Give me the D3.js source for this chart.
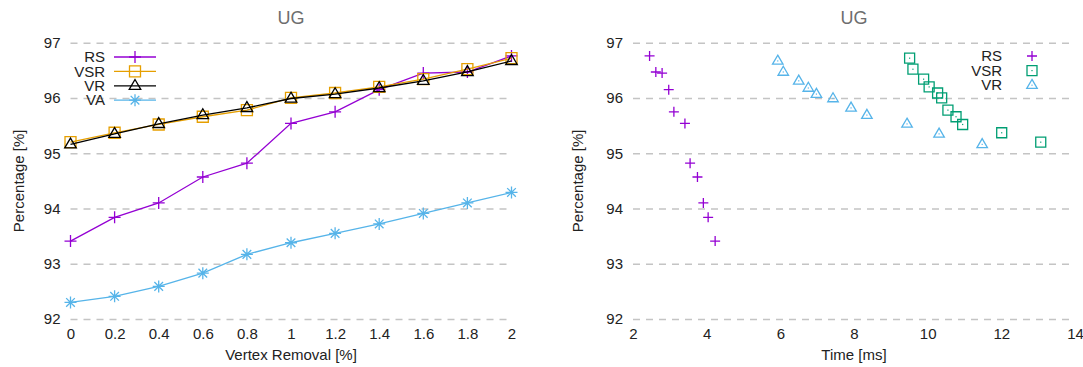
<!DOCTYPE html>
<html>
<head>
<meta charset="utf-8">
<script src="https://cdn.jsdelivr.net/npm/d3@7"></script>
<style>
  body { margin: 0; background: #fff; }
  svg { display: block; font-family: 'Liberation Sans', Arial, sans-serif; }
  .grid line { stroke: #c4c4c4; stroke-width: 1.5; stroke-dasharray: 7,6; }
  .tick text { font-size: 15px; fill: #222; font-family: 'Liberation Sans', Arial, sans-serif; }
</style>
</head>
<body>
<svg id="chart" width="1083" height="367"></svg>
<script>
// vertex removal levels (%)
const removal = [0, 0.2, 0.4, 0.6, 0.8, 1, 1.2, 1.4, 1.6, 1.8, 2];
// percentage per removal level
const rsPct  = [93.41, 93.84, 94.10, 94.57, 94.82, 95.54, 95.75, 96.15, 96.45, 96.47, 96.76];
const vsrPct = [95.20, 95.37, 95.52, 95.66, 95.78, 96.00, 96.09, 96.20, 96.34, 96.52, 96.72];
const vrPct  = [95.16, 95.35, 95.53, 95.69, 95.82, 95.99, 96.07, 96.18, 96.31, 96.47, 96.67];
const vaPct  = [92.30, 92.41, 92.59, 92.83, 93.17, 93.38, 93.55, 93.72, 93.91, 94.10, 94.29];
// time (ms) per removal level, right panel
const rsTime  = [4.23, 4.04, 3.91, 3.75, 3.55, 3.41, 3.11, 2.97, 2.79, 2.62, 2.45];
const vsrTime = [13.07, 12.01, 10.95, 10.77, 10.55, 10.38, 10.27, 10.04, 9.89, 9.60, 9.51];
const vrTime  = [11.48, 10.31, 9.44, 8.35, 7.92, 7.43, 6.98, 6.76, 6.50, 6.08, 5.93];

const yTicks = [92, 93, 94, 95, 96, 97];
const leftXTicks = removal;
const rightXTicks = [2, 4, 6, 8, 10, 12, 14];

const svg = d3.select('#chart');

// marker shapes
const shapes = {
  plus: s => `M${-s},0H${s}M0,${-s}V${s}`,
  square: s => `M${-s},${-s}h${2 * s}v${2 * s}h${-2 * s}Z`,
  triangle: s => `M0,${-s * 1.15}L${s * 1.05},${s * 0.65}L${-s * 1.05},${s * 0.65}Z`,
  star: s => {
    const d = s * 0.72;
    return `M${-s},0H${s}M0,${-s}V${s}M${-d},${-d}L${d},${d}M${-d},${d}L${d},${-d}`;
  }
};

function drawPanel(opts) {
  const { x, y, xTicks, xFormat, xLabel, yLabelX } = opts;
  const g = svg.append('g');
  const [x0, x1] = x.range();

  // grid
  g.append('g')
    .attr('class', 'grid')
    .attr('transform', `translate(${x0},0)`)
    .call(d3.axisLeft(y).tickValues(yTicks).tickSize(-(x1 - x0)).tickFormat(''))
    .call(a => a.select('.domain').remove());

  // y axis labels
  g.append('g')
    .attr('transform', `translate(${x0},0)`)
    .call(d3.axisLeft(y).tickValues(yTicks).tickSize(0).tickPadding(10).tickFormat(d3.format('d')))
    .call(a => a.select('.domain').remove());

  // x axis labels
  g.append('g')
    .attr('transform', `translate(0,${y.range()[0]})`)
    .call(d3.axisBottom(x).tickValues(xTicks).tickSize(0).tickPadding(9).tickFormat(xFormat))
    .call(a => a.select('.domain').remove());

  g.append('text')
    .attr('x', (x0 + x1) / 2).attr('y', 360)
    .attr('text-anchor', 'middle')
    .style('font-size', '15px').style('fill', '#222')
    .text(xLabel);

  g.append('text')
    .attr('transform', `translate(${yLabelX},${(y.range()[0] + y.range()[1]) / 2}) rotate(-90)`)
    .attr('text-anchor', 'middle')
    .style('font-size', '15px').style('fill', '#222')
    .text('Percentage [%]');

  g.append('text')
    .attr('x', (x0 + x1) / 2).attr('y', 24)
    .attr('text-anchor', 'middle')
    .style('font-size', '18px').style('fill', '#6e6e6e')
    .text('UG');

  return g;
}

function drawMarkers(g, pts, shape, size, color, dot) {
  g.selectAll(null).data(pts).enter().append('path')
    .attr('transform', d => `translate(${d[0]},${d[1]})`)
    .attr('d', shapes[shape](size))
    .attr('fill', 'none')
    .attr('stroke', color)
    .attr('stroke-width', 1.3);
  if (dot) {
    g.selectAll(null).data(pts).enter().append('rect')
      .attr('x', d => d[0] - 0.6).attr('y', d => d[1] - 0.6)
      .attr('width', 1.2).attr('height', 1.2)
      .attr('fill', color);
  }
}

// ---------- left panel ----------
const xL = d3.scaleLinear().domain([0, 2]).range([70.5, 511.5]);
const yL = d3.scaleLinear().domain([92, 97]).range([319, 42.7]);
const left = drawPanel({
  x: xL, y: yL, xTicks: leftXTicks, xFormat: d3.format('~g'),
  xLabel: 'Vertex Removal [%]', yLabelX: 24
});

const leftSeries = [
  { name: 'RS', values: rsPct, color: '#9400d3', shape: 'plus', size: 6 },
  { name: 'VSR', values: vsrPct, color: '#e69f00', shape: 'square', size: 5.5 },
  { name: 'VR', values: vrPct, color: '#000000', shape: 'triangle', size: 5.5 },
  { name: 'VA', values: vaPct, color: '#56b4e9', shape: 'star', size: 6 }
];
const line = d3.line().x(d => xL(d[0])).y(d => yL(d[1]));

leftSeries.forEach((s, i) => {
  const pts = removal.map((r, j) => [r, s.values[j]]);
  left.append('path')
    .datum(pts)
    .attr('d', line)
    .attr('fill', 'none')
    .attr('stroke', s.color)
    .attr('stroke-width', 1.3);
  drawMarkers(left, pts.map(p => [xL(p[0]), yL(p[1])]), s.shape, s.size, s.color, false);

  // legend
  const ly = 57 + i * 14.4;
  left.append('text')
    .attr('x', 105).attr('y', ly).attr('dy', '0.35em')
    .attr('text-anchor', 'end')
    .style('font-size', '15px').style('fill', '#222')
    .text(s.name);
  left.append('line')
    .attr('x1', 114).attr('x2', 156).attr('y1', ly).attr('y2', ly)
    .attr('stroke', s.color).attr('stroke-width', 1.3);
  drawMarkers(left, [[135, ly]], s.shape, s.size, s.color, false);
});

// ---------- right panel ----------
const xR = d3.scaleLinear().domain([2, 14]).range([633, 1075]);
const yR = yL.copy();
const right = drawPanel({
  x: xR, y: yR, xTicks: rightXTicks, xFormat: d3.format('d'),
  xLabel: 'Time [ms]', yLabelX: 583
});

const rightSeries = [
  { name: 'RS', times: rsTime, values: rsPct, color: '#9400d3', shape: 'plus', size: 5, dot: false },
  { name: 'VSR', times: vsrTime, values: vsrPct, color: '#009e73', shape: 'square', size: 5, dot: true },
  { name: 'VR', times: vrTime, values: vrPct, color: '#56b4e9', shape: 'triangle', size: 5, dot: true }
];

rightSeries.forEach((s, i) => {
  const pts = s.times.map((t, j) => [xR(t), yR(s.values[j])]);
  drawMarkers(right, pts, s.shape, s.size, s.color, s.dot);

  const ly = 56 + i * 14.6;
  right.append('text')
    .attr('x', 1002).attr('y', ly).attr('dy', '0.35em')
    .attr('text-anchor', 'end')
    .style('font-size', '15px').style('fill', '#222')
    .text(s.name);
  drawMarkers(right, [[1032, ly]], s.shape, s.size, s.color, s.dot);
});
</script>
</body>
</html>
